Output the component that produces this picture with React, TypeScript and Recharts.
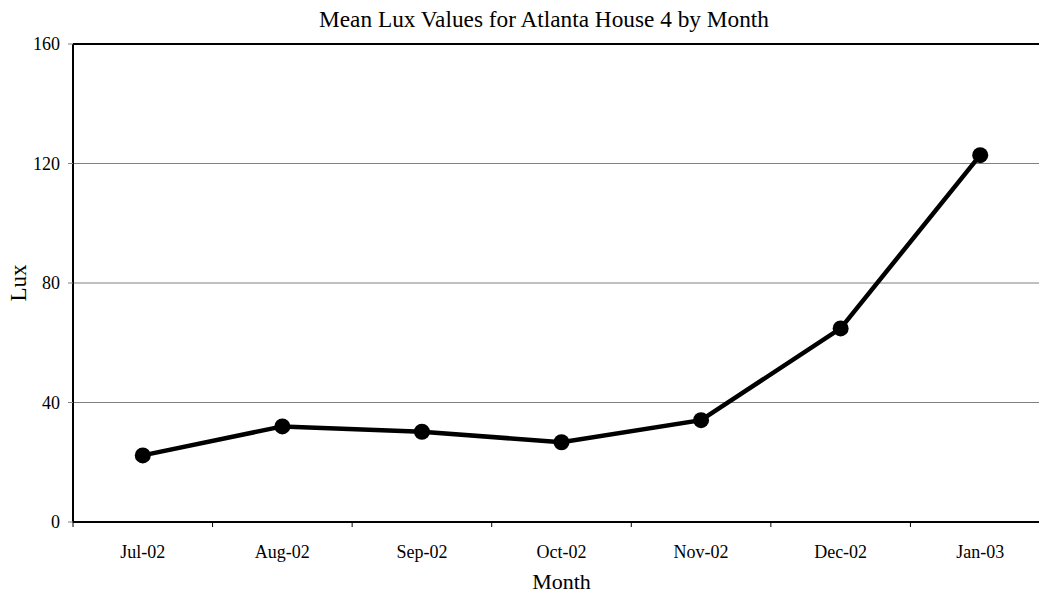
import React from 'react';
import { LineChart, Line, XAxis, YAxis, CartesianGrid, ReferenceLine, Label } from 'recharts';

const months = ['Jul-02', 'Aug-02', 'Sep-02', 'Oct-02', 'Nov-02', 'Dec-02', 'Jan-03'];
const luxValues = [22.3, 32.0, 30.2, 26.7, 34.1, 64.8, 122.8];
const yTicks = [0, 40, 80, 120, 160];
const boundaryTicks = [0, 1, 2, 3, 4, 5, 6, 7];
const labelTicks = [0.5, 1.5, 2.5, 3.5, 4.5, 5.5, 6.5];

const data = months.map((m, i) => ({ x: i + 0.5, month: m, lux: luxValues[i] }));
const xTicks = [...boundaryTicks, ...labelTicks].sort((a, b) => a - b);

const FONT = '"Liberation Serif", "Times New Roman", serif';

const XTick = (props: any) => {
  const { x, y, payload } = props;
  const v = payload.value;
  if (Number.isInteger(v)) {
    return <line x1={x} x2={x} y1={y} y2={y + 5} stroke="#000" strokeWidth={1} />;
  }
  const idx = Math.floor(v);
  return (
    <text x={x} y={y + 36} textAnchor="middle" fontFamily={FONT} fontSize={18} fill="#000">
      {months[idx]}
    </text>
  );
};

export default function App() {
  return (
    <div style={{ position: 'absolute', left: 0, top: 0, width: 1039, height: 593, overflow: 'hidden', background: '#fff' }}>
      <div
        style={{
          position: 'absolute',
          left: 544,
          top: 5,
          transform: 'translateX(-50%)',
          whiteSpace: 'nowrap',
          fontFamily: FONT,
          fontSize: 23.3,
          color: '#000',
          lineHeight: '28px',
        }}
      >
        Mean Lux Values for Atlanta House 4 by Month
      </div>
      <LineChart width={1060} height={593} data={data} margin={{ top: 44, right: 10, bottom: 0, left: 0 }}>
        <CartesianGrid horizontal vertical={false} stroke="#808080" strokeWidth={1} />
        <ReferenceLine y={160} stroke="#000" strokeWidth={2} />
        <XAxis
          dataKey="x"
          type="number"
          domain={[0, 7]}
          ticks={xTicks}
          interval={0}
          tick={<XTick />}
          tickLine={false}
          tickSize={0}
          tickMargin={0}
          axisLine={{ stroke: '#000', strokeWidth: 2 }}
          height={71}
        >
          <Label value="Month" position="insideBottom" offset={4} style={{ fontFamily: FONT, fontSize: 22, fill: '#000' }} />
        </XAxis>
        <YAxis
          type="number"
          domain={[0, 160]}
          ticks={yTicks}
          interval={0}
          width={73}
          tickSize={5}
          tickMargin={8}
          tickLine={{ stroke: '#808080' }}
          axisLine={{ stroke: '#000', strokeWidth: 2 }}
          tick={{ fontFamily: FONT, fontSize: 18, fill: '#000' }}
        >
          <Label value="Lux" angle={-90} position="insideLeft" offset={18} style={{ fontFamily: FONT, fontSize: 23, fill: '#000', textAnchor: 'middle' }} />
        </YAxis>
        <Line
          type="linear"
          dataKey="lux"
          stroke="#000"
          strokeWidth={4.5}
          dot={{ r: 8, fill: '#000', stroke: '#000', strokeWidth: 0 }}
          isAnimationActive={false}
        />
      </LineChart>
    </div>
  );
}
